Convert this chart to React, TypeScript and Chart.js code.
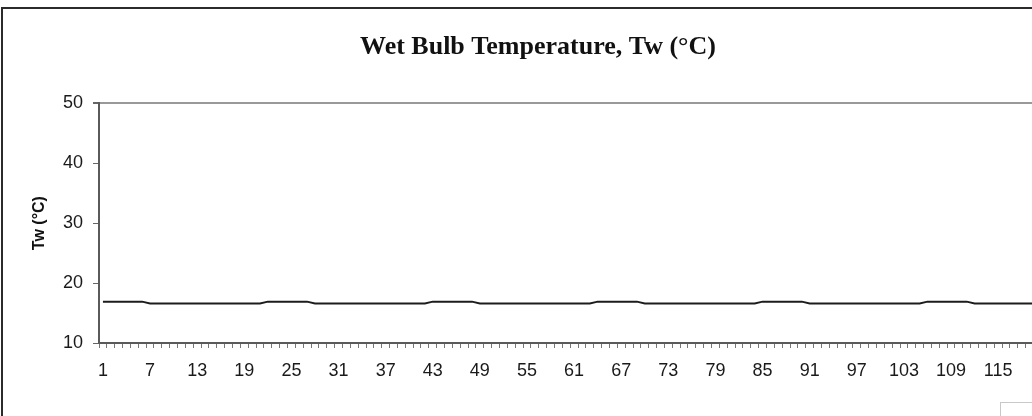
import React, { useEffect, useRef } from "react";
import { Chart, registerables } from "chart.js";

Chart.register(...registerables);

// Category labels: days 1..123 (the plot continues past the cropped right edge)
const categories: string[] = Array.from({ length: 123 }, (_, i) => String(i + 1));
// Labelled categories visible in the crop (every 6th, 1..115)
const shownLabels = ["1", "7", "13", "19", "25", "31", "37", "43", "49", "55", "61", "67", "73", "79", "85", "91", "97", "103", "109", "115"];

// Wet bulb temperature readings (°C)
const highRun = [16.9, 16.9, 16.9, 16.9, 16.9, 16.9];
const lowRun = [16.6, 16.6, 16.6, 16.6, 16.6, 16.6, 16.6, 16.6, 16.6, 16.6, 16.6, 16.6, 16.6, 16.6, 16.6];
const twValues: number[] = [
  ...highRun, ...lowRun, // 1-21
  ...highRun, ...lowRun, // 22-42
  ...highRun, ...lowRun, // 43-63
  ...highRun, ...lowRun, // 64-84
  ...highRun, ...lowRun, // 85-105
  ...highRun, 16.6, 16.6, 16.6, 16.6, 16.6, 16.6, 16.6, 16.6, 16.6, // 106-120
];

const yTicks = [10, 20, 30, 40, 50];

export default function App() {
  const ref = useRef<HTMLCanvasElement | null>(null);

  useEffect(() => {
    if (!ref.current) return;
    const chart = new Chart(ref.current, {
      type: "line",
      data: {
        labels: categories,
        datasets: [
          {
            label: "Tw",
            data: twValues,
            borderColor: "#1c1c1c",
            borderWidth: 2,
            pointRadius: 0,
            tension: 0,
            fill: false,
          },
        ],
      },
      options: {
        animation: false,
        responsive: false,
        devicePixelRatio: 1,
        layout: { padding: { top: 0, right: 0, bottom: 0, left: 0 } },
        plugins: {
          legend: { display: false },
          tooltip: { enabled: false },
          title: {
            display: true,
            text: "Wet Bulb Temperature, Tw (°C)",
            color: "#111",
            font: { family: "'Liberation Serif', 'Times New Roman', serif", size: 26, weight: "bold", lineHeight: 1.2 },
            padding: { top: 23, bottom: 40 },
          },
        },
        scales: {
          x: {
            type: "category",
            offset: true,
            afterFit: (scale: any) => {
              scale.height = 73;
            },
            grid: {
              display: true,
              drawOnChartArea: false,
              drawTicks: true,
              tickLength: 5,
              offset: true,
              color: "#777",
              lineWidth: 1,
            },
            border: { display: true, color: "#5a5a5a", width: 2 },
            ticks: {
              autoSkip: false,
              maxRotation: 0,
              minRotation: 0,
              padding: 12,
              color: "#1a1a1a",
              font: { family: "'Liberation Sans', Arial, sans-serif", size: 18 },
              callback: (_v: any, i: number) => (shownLabels.includes(categories[i]) ? categories[i] : ""),
            },
          },
          y: {
            min: 10,
            max: 50,
            afterFit: (scale: any) => {
              scale.width = 96;
            },
            afterBuildTicks: (scale: any) => {
              scale.ticks = yTicks.map((v) => ({ value: v }));
            },
            grid: {
              display: true,
              drawOnChartArea: true,
              drawTicks: true,
              tickLength: 6,
              color: (ctx: any) => (ctx.tick && ctx.tick.value === 50 ? "#999" : "rgba(0,0,0,0)"),
              lineWidth: (ctx: any) => (ctx.tick && ctx.tick.value === 50 ? 2 : 1),
              tickColor: "#666",
            },
            border: { display: true, color: "#5a5a5a", width: 2 },
            title: {
              display: true,
              text: "Tw (°C)",
              color: "#111",
              font: { family: "'Liberation Sans', Arial, sans-serif", size: 16, weight: "bold", lineHeight: 1.2 },
              padding: { top: 27, bottom: 0 },
            },
            ticks: {
              padding: 10,
              color: "#1a1a1a",
              font: { family: "'Liberation Sans', Arial, sans-serif", size: 18 },
            },
          },
        },
      },
    });
    return () => chart.destroy();
  }, []);

  return (
    <div
      style={{
        position: "fixed",
        left: 0,
        top: 0,
        width: 1032,
        height: 416,
        overflow: "hidden",
        background: "#fff",
      }}
    >
      <div
        style={{
          position: "absolute",
          left: 1,
          top: 7,
          borderLeft: "2px solid #2b2b2b",
          borderTop: "2px solid #2b2b2b",
        }}
      >
        <canvas ref={ref} width={1070} height={407} style={{ display: "block" }} />
      </div>
      <div
        style={{
          position: "absolute",
          left: 1000,
          top: 402,
          width: 40,
          height: 20,
          border: "1px solid #c8c8c8",
        }}
      />
    </div>
  );
}
